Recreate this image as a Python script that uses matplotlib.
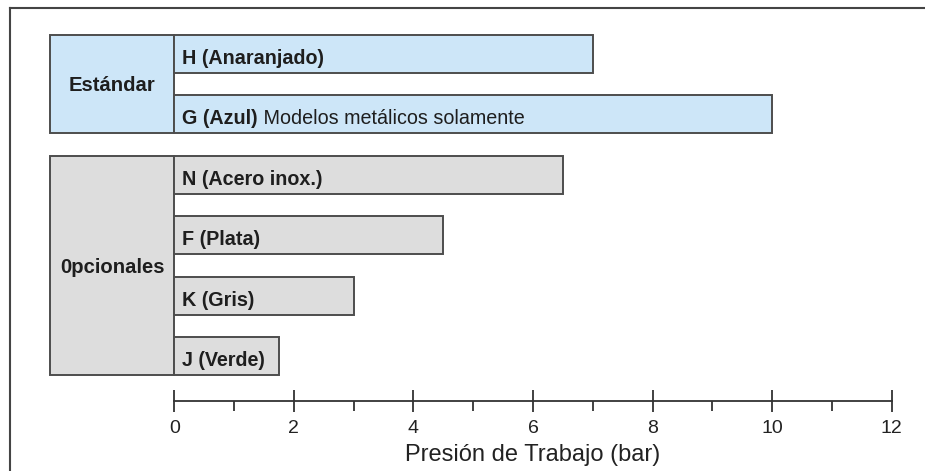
import matplotlib
matplotlib.use('Agg')
import matplotlib.pyplot as plt
from matplotlib.patches import Rectangle
from matplotlib.lines import Line2D

plt.rcParams['font.family'] = ['Liberation Sans', 'DejaVu Sans']

# ---- data ----
codes = ['H (Anaranjado)', 'G (Azul)', 'N (Acero inox.)', 'F (Plata)', 'K (Gris)', 'J (Verde)']
notes = ['', ' Modelos metálicos solamente', '', '', '', '']
pressure_bar = [7.0, 10.0, 6.5, 4.5, 3.0, 1.75]
groups = ['Estándar', 'Estándar', '0pcionales', '0pcionales', '0pcionales', '0pcionales']
group_names = ['Estándar', '0pcionales']
group_colors = {'Estándar': '#cde6f8', '0pcionales': '#dddddd'}
xticks = [0, 2, 4, 6, 8, 10, 12]
xminor = [1, 3, 5, 7, 9, 11]
xlabel = 'Presión de Trabajo (bar)'

# ---- layout ----
W, H = 925, 471
fig = plt.figure(figsize=(W / 100, H / 100), dpi=100)
x0_px, x12_px = 174.3, 891.7
top_px, axis_px = 20, 401
ax = fig.add_axes([x0_px / W, 1 - axis_px / H, (x12_px - x0_px) / W, (axis_px - top_px) / H])
ax.set_xlim(0, 12)
pitch = 60.5
first_px = 53.9
ax.set_ylim((axis_px - first_px) / pitch, -(first_px - top_px) / pitch)
ax.patch.set_visible(False)

edge = '#4d4d4d'
bar_h = 0.63
ypos = list(range(len(codes)))
colors = [group_colors[g] for g in groups]

# group label boxes
box_left = -(x0_px - 50) / ((x12_px - x0_px) / 12)
for g in group_names:
    ys = [y for y, gg in zip(ypos, groups) if gg == g]
    ymin = min(ys) - bar_h / 2
    ymax = max(ys) + bar_h / 2
    ax.add_patch(Rectangle((box_left, ymin), -box_left, ymax - ymin,
                           facecolor=group_colors[g], edgecolor=edge, lw=1.4,
                           clip_on=False, zorder=1))
    ax.text(box_left / 2, (ymin + ymax) / 2 + 0.03, g, ha='center', va='center',
            fontsize=14.6, fontweight='bold', color='#1e1e1e', zorder=4)

ax.barh(ypos, pressure_bar, height=bar_h, color=colors, edgecolor=edge,
        linewidth=1.4, zorder=2, clip_on=False)

for y, c, n in zip(ypos, codes, notes):
    t = ax.text(0.13, y + 0.07, c, ha='left', va='center', fontsize=14.2,
                fontweight='bold', color='#1e1e1e', zorder=4)
    if n:
        ax.annotate(n, xy=(1, 0), xycoords=t, ha='left', va='bottom',
                    fontsize=14.2, color='#1e1e1e', zorder=4)

# axis
for s in ['top', 'left', 'right']:
    ax.spines[s].set_visible(False)
ax.spines['bottom'].set_color('#333333')
ax.spines['bottom'].set_linewidth(1.3)
ax.set_yticks([])
ax.set_xticks(xticks)
ax.set_xticks(xminor, minor=True)
ax.tick_params(axis='x', which='major', direction='inout', length=16, width=1.3,
               color='#333333', labelsize=14, pad=6, labelcolor='#222222')
ax.tick_params(axis='x', which='minor', direction='out', length=7, width=1.3,
               color='#333333')

fig.text(533 / W, 1 - 455 / H, xlabel, ha='center', va='center', fontsize=17,
         color='#222222')

# outer frame
fig.add_artist(Line2D([10 / W, 1], [1 - 8 / H, 1 - 8 / H], transform=fig.transFigure,
                      color='#444444', lw=1.5))
fig.add_artist(Line2D([10 / W, 10 / W], [0, 1 - 8 / H], transform=fig.transFigure,
                      color='#444444', lw=1.5))

fig.savefig('out.png', dpi=100)
